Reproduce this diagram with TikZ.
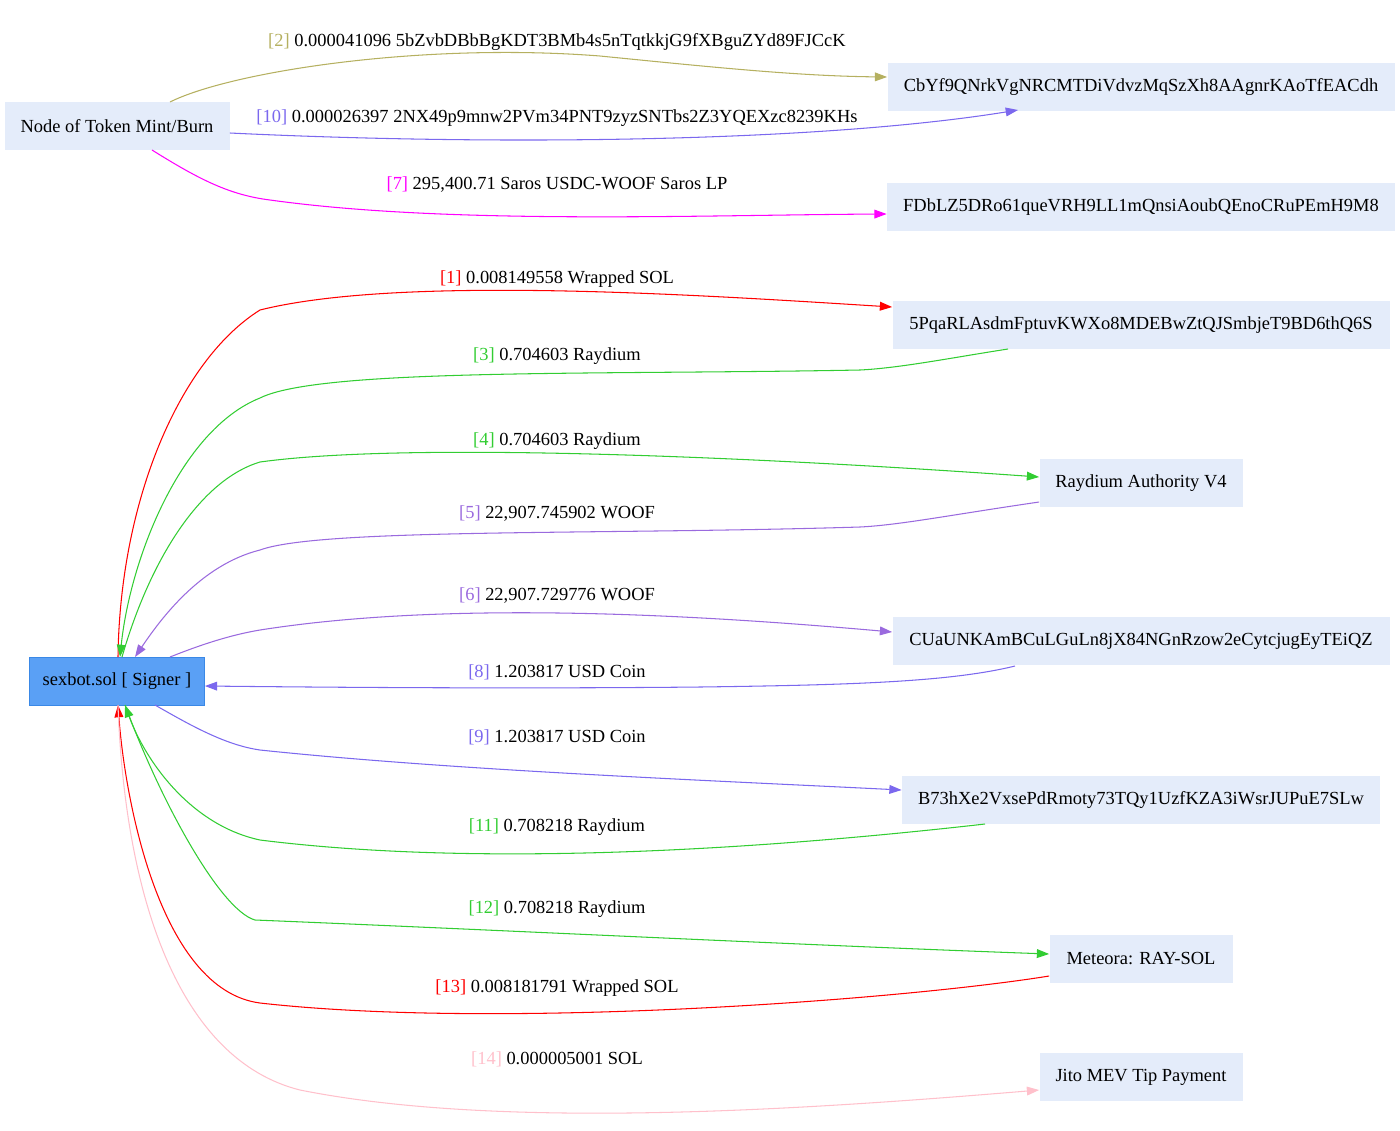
\documentclass[tikz,border=0pt]{standalone}
\usepackage{fontspec}
\setmainfont{Liberation Serif}
\usetikzlibrary{arrows.meta}
\definecolor{boxfill}{HTML}{E4ECFA}
\definecolor{signfill}{HTML}{5AA0F5}
\definecolor{signline}{HTML}{3A88E6}
\definecolor{olivec}{HTML}{B5B060}
\definecolor{slatec}{HTML}{7B68EE}
\definecolor{purplec}{HTML}{9A6ADE}
\definecolor{greenc}{HTML}{32CD32}
\definecolor{pinkc}{HTML}{FFC0CB}
\definecolor{magc}{HTML}{FF00FF}
\newcommand{\tag}[2]{{\color{#1}[#2]}}
\tikzset{
  acct/.style={fill=boxfill, draw=none, minimum height=48*0.02cm, inner xsep=7pt, font=\fontsize{10.5}{12}\selectfont},
  signer/.style={acct, fill=signfill, draw=signline},
  flow/.style={-{Triangle[length=7pt,width=5pt]}, line width=0.6pt},
  amount/.style={font=\fontsize{10.5}{12}\selectfont}
}
\begin{document}
\begin{tikzpicture}[x=0.02cm,y=-0.02cm]
    \useasboundingbox (0,0) rectangle (1400,1130);
    % Accounts
    \node[acct, minimum width=225*0.02cm] (mint) at (117,126) {Node of Token Mint/Burn};
    \node[signer, minimum width=175*0.02cm] (bot) at (117,681) {sexbot.sol [ Signer ]};
    \node[acct, minimum width=507*0.02cm] (cbyf) at (1141,87) {CbYf9QNrkVgNRCMTDiVdvzMqSzXh8AAgnrKAoTfEACdh};
    \node[acct, minimum width=508*0.02cm] (fdbl) at (1141,207) {FDbLZ5DRo61queVRH9LL1mQnsiAoubQEnoCRuPEmH9M8};
    \node[acct, minimum width=497*0.02cm] (pqa) at (1141,325) {5PqaRLAsdmFptuvKWXo8MDEBwZtQJSmbjeT9BD6thQ6S};
    \node[acct, minimum width=203*0.02cm] (ray) at (1141,483) {Raydium Authority V4};
    \node[acct, minimum width=497*0.02cm] (cuau) at (1141,641) {CUaUNKAmBCuLGuLn8jX84NGnRzow2eCytcjugEyTEiQZ};
    \node[acct, minimum width=478*0.02cm] (b73) at (1141,800) {B73hXe2VxsePdRmoty73TQy1UzfKZA3iWsrJUPuE7SLw};
    \node[acct, minimum width=183*0.02cm] (met) at (1141,959) {Meteora: RAY-SOL};
    \node[acct, minimum width=203*0.02cm] (jito) at (1141,1077) {Jito MEV Tip Payment};

    % Transfers
    \draw[flow, olivec] (170,102) .. controls (230,72) and (420,42) .. (600,56) .. controls (720,68) and (800,76) .. (cbyf.west |- 0,77);
    \draw[flow, slatec] (mint.east |- 0,133) .. controls (500,146) and (820,142) .. (1018,110);
    \draw[flow, magc] (152,150) .. controls (200,180) and (230,195) .. (270,200) .. controls (450,225) and (700,215) .. (fdbl.west |- 0,214);
    \draw[flow, red] (118,657) .. controls (120,500) and (180,360) .. (260,310) .. controls (400,275) and (700,295) .. (pqa.west |- 0,307);
    \draw[flow, greenc] (1008,349) .. controls (950,358) and (900,368) .. (860,370) .. controls (600,375) and (320,368) .. (260,398) .. controls (180,430) and (130,560) .. (120,657);
    \draw[flow, greenc] (122,657) .. controls (150,560) and (200,480) .. (260,462) .. controls (420,440) and (800,460) .. (ray.west |- 0,477);
    \draw[flow, purplec] (ray.west |- 0,502) .. controls (950,515) and (900,525) .. (860,527) .. controls (600,535) and (320,528) .. (260,550) .. controls (200,565) and (160,620) .. (135,657);
    \draw[flow, purplec] (170,657) .. controls (200,645) and (230,635) .. (260,630) .. controls (450,600) and (700,615) .. (cuau.west |- 0,632);
    \draw[flow, slatec] (1015,666) .. controls (950,682) and (850,685) .. (700,687) .. controls (500,689) and (300,687) .. (bot.east |- 0,686);
    \draw[flow, slatec] (155,705) .. controls (190,725) and (225,745) .. (260,750) .. controls (450,770) and (700,780) .. (b73.west |- 0,790);
    \draw[flow, greenc] (985,824) .. controls (800,845) and (500,870) .. (260,840) .. controls (190,825) and (145,760) .. (125,705);
    \draw[flow, greenc] (125,705) .. controls (160,800) and (220,910) .. (255,920) .. controls (500,930) and (800,945) .. (met.west |- 0,954);
    \draw[flow, red] (met.west |- 0,976) .. controls (900,1000) and (500,1030) .. (260,1003) .. controls (160,990) and (125,800) .. (118,705);
    \draw[flow, pinkc] (118,705) .. controls (125,900) and (180,1060) .. (300,1090) .. controls (500,1130) and (800,1110) .. (jito.west |- 0,1090);

    % Amounts
    \node[amount] (l2) at (557,42) {\tag{olivec}{2} 0.000041096 5bZvbDBbBgKDT3BMb4s5nTqtkkjG9fXBguZYd89FJCcK};
    \node[amount] (l10) at (557,118) {\tag{slatec}{10} 0.000026397 2NX49p9mnw2PVm34PNT9zyzSNTbs2Z3YQEXzc8239KHs};
    \node[amount] (l7) at (557,185) {\tag{magc}{7} 295,400.71 Saros USDC-WOOF Saros LP};
    \node[amount] (l1) at (557,279) {\tag{red}{1} 0.008149558 Wrapped SOL};
    \node[amount] (l3) at (557,356) {\tag{greenc}{3} 0.704603 Raydium};
    \node[amount] (l4) at (557,441) {\tag{greenc}{4} 0.704603 Raydium};
    \node[amount] (l5) at (557,514) {\tag{purplec}{5} 22,907.745902 WOOF};
    \node[amount] (l6) at (557,596) {\tag{purplec}{6} 22,907.729776 WOOF};
    \node[amount] (l8) at (557,672) {\tag{slatec}{8} 1.203817 USD Coin};
    \node[amount] (l9) at (557,737) {\tag{slatec}{9} 1.203817 USD Coin};
    \node[amount] (l11) at (557,827) {\tag{greenc}{11} 0.708218 Raydium};
    \node[amount] (l12) at (557,909) {\tag{greenc}{12} 0.708218 Raydium};
    \node[amount] (l13) at (557,988) {\tag{red}{13} 0.008181791 Wrapped SOL};
    \node[amount] (l14) at (557,1059) {\tag{pinkc}{14} 0.000005001 SOL};
\end{tikzpicture}
\end{document}
